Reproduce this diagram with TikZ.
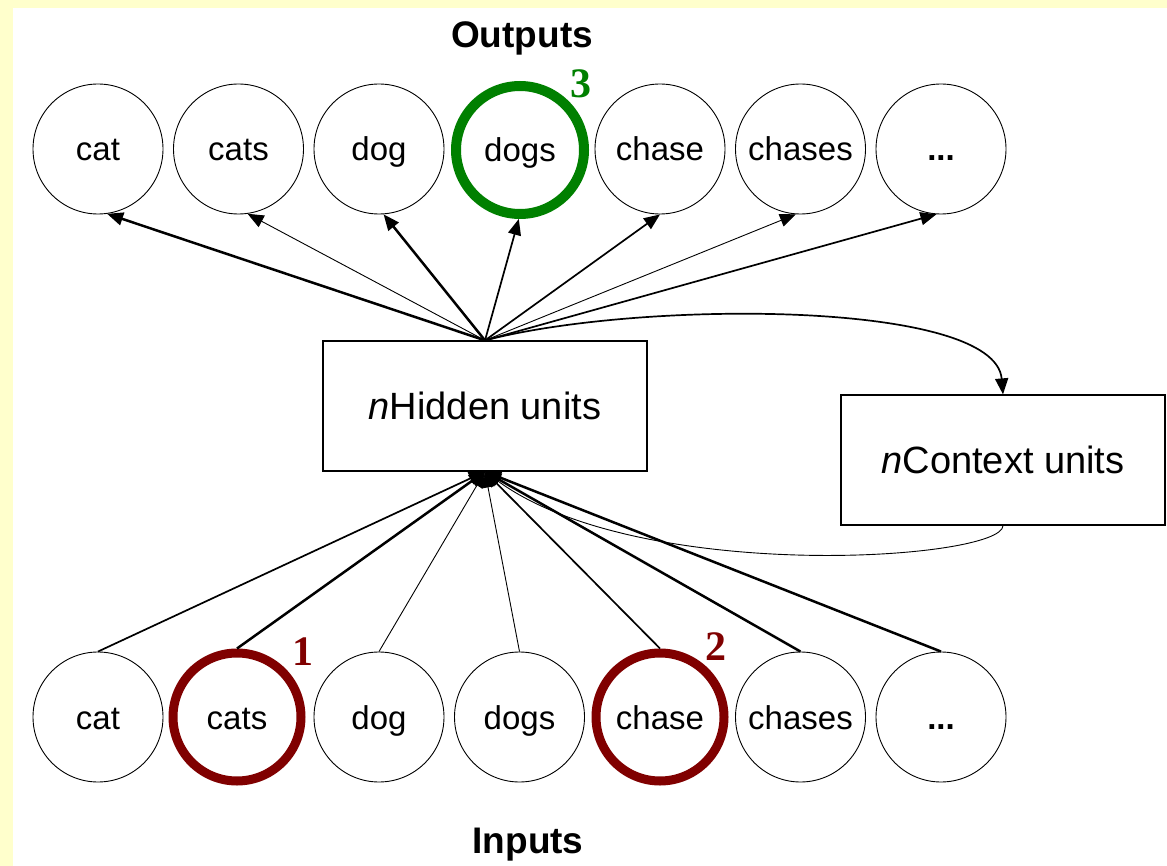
\documentclass[tikz,border=0pt]{standalone}
\usepackage{fontspec}
\setmainfont{Liberation Sans}
\newfontfamily\numfont{Liberation Serif}
\usetikzlibrary{arrows.meta}
\definecolor{bgyellow}{HTML}{FFFFCC}
\definecolor{hlgreen}{HTML}{008000}
\definecolor{hlred}{HTML}{800000}
\begin{document}
\begin{tikzpicture}[x=1pt,y=-1pt,
  unit/.style={circle,draw=black,line width=0.9pt,minimum size=130pt,inner sep=0pt,
    text height=26pt,text depth=2pt,font=\fontsize{33}{36}\selectfont},
  hlgreenunit/.style={unit,draw=hlgreen,line width=10pt,minimum size=128pt},
  hlredunit/.style={unit,draw=hlred,line width=9pt,minimum size=128pt},
  layerbox/.style={draw=black,line width=1.2pt,minimum width=324pt,minimum height=130pt,
    inner sep=0pt,font=\fontsize{38}{40}\selectfont},
  layertitle/.style={font=\bfseries\fontsize{37}{40}\selectfont,anchor=base},
  stepnum/.style={font=\numfont\bfseries\fontsize{42}{44}\selectfont,anchor=base},
  conn/.style={draw=black,-{Triangle[length=16pt,width=13pt]}},
  thinc/.style={line width=0.9pt},
  midc/.style={line width=1.7pt},
  thickc/.style={line width=2.5pt}
]
\useasboundingbox (0,0) rectangle (1167,866);
\fill[bgyellow] (0,0) rectangle (1167,866);
\fill[white] (13,8) rectangle (1167,866);

% titles
\node[layertitle] (outt) at (522,48) {Outputs};
\node[layertitle] (int) at (528,853) {Inputs};

% output units
\node[unit] (o1) at (98,149) {cat};
\node[unit] (o2) at (238.5,149) {cats};
\node[unit] (o3) at (379,149) {dog};
\node[hlgreenunit] (o4) at (520,150) {dogs};
\node[unit] (o5) at (660,149) {chase};
\node[unit] (o6) at (800.5,149) {chases};
\node[unit] (o7) at (941,149) {\textbf{...}};

% input units
\node[unit] (i1) at (98,717) {cat};
\node[hlredunit] (i2) at (237,717) {cats};
\node[unit] (i3) at (379,717) {dog};
\node[unit] (i4) at (519.5,717) {dogs};
\node[hlredunit] (i5) at (660,717) {chase};
\node[unit] (i6) at (800.5,717) {chases};
\node[unit] (i7) at (941,717) {\textbf{...}};

% step numbers
\node[stepnum,text=hlgreen] (n3) at (581,98) {3};
\node[stepnum,text=hlred] (n1) at (303,665) {1};
\node[stepnum,text=hlred] (n2) at (716,660) {2};

% layers
\node[layerbox] (H) at (485,406) {\textit{n}Hidden units};
\node[layerbox] (C) at (1003,460) {\textit{n}Context units};

% hidden -> outputs
\draw[conn,thickc] (H.north) -- (o1.-82);
\draw[conn,thinc]  (H.north) -- (o2.-82);
\draw[conn,thickc] (H.north) -- (o3.-86);
\draw[conn,midc]   (H.north) -- (o4.-91);
\draw[conn,midc]   (H.north) -- (o5.-90);
\draw[conn,thinc]  (H.north) -- (o6.-94);
\draw[conn,midc]   (H.north) -- (o7.-94);

% hidden -> context (copy)
\draw[conn,midc] (H.north) .. controls (640,300) and (995,300) .. (C.north);

% inputs -> hidden
\draw[conn,midc]   (i1.north) -- (H.south);
\draw[conn,thickc] (i2.north) -- (H.south);
\draw[conn,thinc]  (i3.north) -- (H.south);
\draw[conn,thinc]  (i4.north) -- (H.south);
\draw[conn,midc]   (i5.north) -- (H.south);
\draw[conn,thickc] (i6.north) -- (H.south);
\draw[conn,thickc] (i7.north) -- (H.south);

% context -> hidden
\draw[conn,thinc] (C.south) .. controls (1003,560) and (640,585) .. (H.south);
\end{tikzpicture}
\end{document}
